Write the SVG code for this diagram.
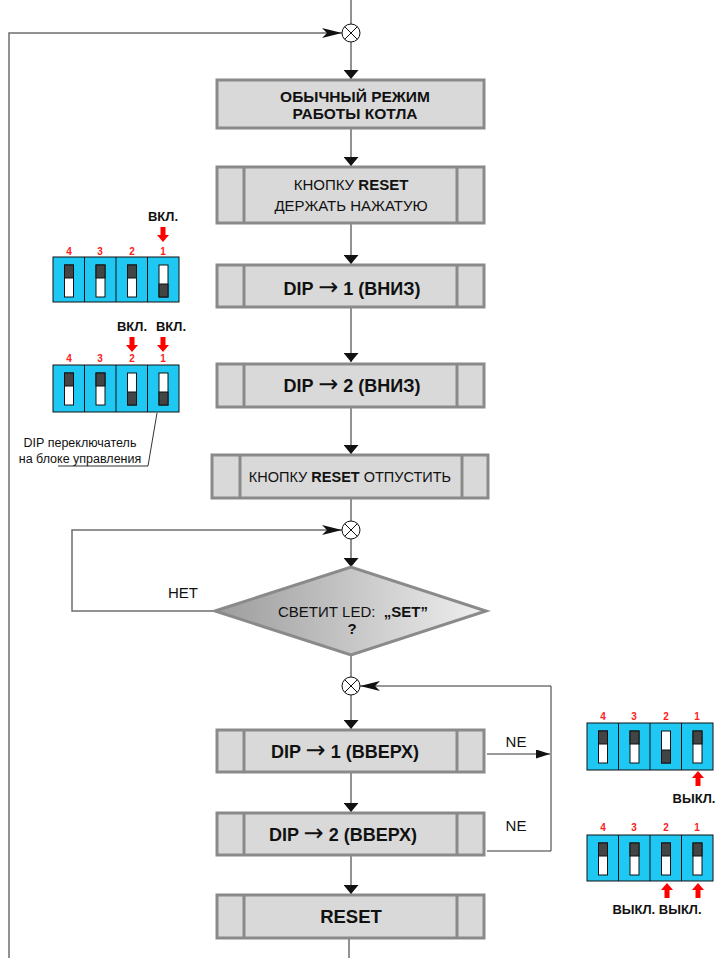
<svg xmlns="http://www.w3.org/2000/svg" xmlns:xlink="http://www.w3.org/1999/xlink" width="721" height="958" viewBox="0 0 721 958">
<style>
.box{fill:#d9d9d9;stroke:#8a8a8a;stroke-width:3}
.div{stroke:#8a8a8a;stroke-width:3}
.ln{fill:none;stroke:#6e6e6e;stroke-width:1.5}
.lnb{fill:none;stroke:#333;stroke-width:1}
.t{font-family:"Liberation Sans",Arial,sans-serif;fill:#111;text-anchor:middle}
.tb{font-family:"Liberation Sans",Arial,sans-serif;font-weight:bold;fill:#111;text-anchor:middle}
.ar{font-family:"DejaVu Sans",sans-serif;font-weight:normal;font-size:24px}
.num{font-family:"Liberation Sans",Arial,sans-serif;font-weight:bold;fill:#ff2020;font-size:10px;text-anchor:middle}
.lab{font-family:"Liberation Sans",Arial,sans-serif;font-weight:bold;fill:#111;font-size:13px}
.body{fill:#1ec8f2;stroke:#111;stroke-width:1}
.red{fill:#ff0000}
.circ{fill:#fff;stroke:#111;stroke-width:1}
</style>
<defs>
<marker id="ah" viewBox="0 0 10 10" refX="10" refY="5" markerWidth="9" markerHeight="15" markerUnits="userSpaceOnUse" orient="auto-start-reverse" preserveAspectRatio="none">
<path d="M0,0 L10,5 L0,10 Z" fill="#111"/>
</marker>
<marker id="ahl" viewBox="0 0 20 10" refX="20" refY="5" markerWidth="20" markerHeight="10" markerUnits="userSpaceOnUse" orient="auto" preserveAspectRatio="none">
<path d="M0,0 L20,5 L0,10 L5,5 Z" fill="#111"/>
</marker>
<marker id="ahs" viewBox="0 0 10 10" refX="10" refY="5" markerWidth="14" markerHeight="9" markerUnits="userSpaceOnUse" orient="auto" preserveAspectRatio="none">
<path d="M0,0 L10,5 L0,10 Z" fill="#111"/>
</marker>
<linearGradient id="dg" x1="0" y1="0" x2="1" y2="0">
<stop offset="0" stop-color="#9c9c9c"/>
<stop offset="1" stop-color="#f0f0f0"/>
</linearGradient>
<g id="tu"><rect x="0" y="0" width="9" height="32" fill="#fff" stroke="#111" stroke-width="1"/><rect x="0" y="0" width="9" height="13" fill="#444" stroke="#111" stroke-width="1"/></g>
<g id="td"><rect x="0" y="0" width="9" height="32" fill="#fff" stroke="#111" stroke-width="1"/><rect x="0" y="19" width="9" height="13" fill="#444" stroke="#111" stroke-width="1"/></g>
<g id="cross"><circle cx="0" cy="0" r="9" class="circ"/><path d="M-6.4,-6.4 L6.4,6.4 M-6.4,6.4 L6.4,-6.4" stroke="#111" stroke-width="1"/></g>
<path id="up" d="M-2.5,15 L-2.5,7 L-6,7 L0,0 L6,7 L2.5,7 L2.5,15 Z"/>
<path id="down" d="M-2.5,0 L-2.5,8 L-6,8 L0,15 L6,8 L2.5,8 L2.5,0 Z"/>
</defs>

<g id="connectors">
<line class="ln" x1="351" y1="0" x2="351" y2="24"/>
<polyline class="ln" points="9,958 9,33 342,33" marker-end="url(#ahl)"/>
<line class="ln" x1="351" y1="42" x2="351" y2="79" marker-end="url(#ah)"/>
<line class="ln" x1="351" y1="129" x2="351" y2="166" marker-end="url(#ah)"/>
<line class="ln" x1="351" y1="224" x2="351" y2="264" marker-end="url(#ah)"/>
<line class="ln" x1="351" y1="308" x2="351" y2="362" marker-end="url(#ah)"/>
<line class="ln" x1="351" y1="408" x2="351" y2="454" marker-end="url(#ah)"/>
<line class="ln" x1="351" y1="499" x2="351" y2="521"/>
<line class="ln" x1="351" y1="539" x2="351" y2="567" marker-end="url(#ah)"/>
<polyline class="ln" points="215,611 72,611 72,530 342,530" marker-end="url(#ahl)"/>
<line class="ln" x1="351" y1="655" x2="351" y2="677"/>
<line class="ln" x1="351" y1="695" x2="351" y2="729" marker-end="url(#ah)"/>
<line class="ln" x1="351" y1="773" x2="351" y2="812" marker-end="url(#ah)"/>
<line class="ln" x1="351" y1="856" x2="351" y2="894" marker-end="url(#ah)"/>
<line class="ln" x1="349" y1="939" x2="349" y2="958"/>
<line class="lnb" x1="487" y1="754" x2="550" y2="754" marker-end="url(#ahs)"/>
<polyline class="lnb" points="487,851 551,851 551,686 360,686" marker-end="url(#ahl)"/>
<polyline class="lnb" points="157,413 148,466 58,466"/>
</g>

<g id="j1"><use xlink:href="#cross" x="351" y="33"/></g>
<g id="j2"><use xlink:href="#cross" x="351" y="530"/></g>
<g id="j3"><use xlink:href="#cross" x="351" y="686"/></g>

<g id="n1">
<rect class="box" x="217" y="80" width="267" height="48"/>
<text class="tb" x="355" y="102" font-size="15.5">ОБЫЧНЫЙ РЕЖИМ</text>
<text class="tb" x="355" y="119" font-size="15.5">РАБОТЫ КОТЛА</text>
</g>

<g id="n2">
<rect class="box" x="217" y="167" width="267" height="56"/>
<line class="div" x1="244" y1="167" x2="244" y2="223"/><line class="div" x1="457" y1="167" x2="457" y2="223"/>
<text class="t" x="351" y="190" font-size="15">КНОПКУ <tspan font-weight="bold">RESET</tspan></text>
<text class="t" x="351" y="210.5" font-size="15">ДЕРЖАТЬ НАЖАТУЮ</text>
</g>

<g id="n3">
<rect class="box" x="217" y="265" width="267" height="42"/>
<line class="div" x1="244" y1="265" x2="244" y2="307"/><line class="div" x1="457" y1="265" x2="457" y2="307"/>
<text class="tb" x="352" y="294.5" font-size="18">DIP <tspan class="ar">→</tspan> 1 (ВНИЗ)</text>
</g>

<g id="n4">
<rect class="box" x="217" y="364" width="267" height="43"/>
<line class="div" x1="244" y1="364" x2="244" y2="407"/><line class="div" x1="457" y1="364" x2="457" y2="407"/>
<text class="tb" x="352" y="392" font-size="18">DIP <tspan class="ar">→</tspan> 2 (ВНИЗ)</text>
</g>

<g id="n5">
<rect class="box" x="212" y="455" width="276" height="43"/>
<line class="div" x1="240" y1="455" x2="240" y2="498"/><line class="div" x1="462" y1="455" x2="462" y2="498"/>
<text class="t" x="350" y="482" font-size="14.5">КНОПКУ <tspan font-weight="bold">RESET</tspan> ОТПУСТИТЬ</text>
</g>

<g id="d1">
<polygon points="215,611 351,567 486,611 351,655" fill="url(#dg)" stroke="#8a8a8a" stroke-width="3"/>
<text class="t" x="353" y="617" font-size="15">СВЕТИТ LED:&#160; <tspan font-weight="bold">„SET”</tspan></text>
<text class="tb" x="352" y="634" font-size="15">?</text>
</g>
<text class="t" x="183" y="598" font-size="15">НЕТ</text>

<g id="n6">
<rect class="box" x="217" y="730" width="267" height="42"/>
<line class="div" x1="244" y1="730" x2="244" y2="772"/><line class="div" x1="457" y1="730" x2="457" y2="772"/>
<text class="tb" x="345" y="758" font-size="18">DIP <tspan class="ar">→</tspan> 1 (ВВЕРХ)</text>
</g>

<g id="n7">
<rect class="box" x="217" y="813" width="267" height="42"/>
<line class="div" x1="244" y1="813" x2="244" y2="855"/><line class="div" x1="457" y1="813" x2="457" y2="855"/>
<text class="tb" x="343" y="841" font-size="18">DIP <tspan class="ar">→</tspan> 2 (ВВЕРХ)</text>
</g>

<g id="n8">
<rect class="box" x="217" y="895" width="267" height="43"/>
<line class="div" x1="244" y1="895" x2="244" y2="938"/><line class="div" x1="457" y1="895" x2="457" y2="938"/>
<text class="tb" x="351" y="923" font-size="18.5">RESET</text>
</g>

<text class="t" x="516" y="747" font-size="15">NE</text>
<text class="t" x="516" y="831" font-size="15">NE</text>

<g id="dip1">
<text class="num" x="69" y="255">4</text><text class="num" x="100" y="255">3</text><text class="num" x="132" y="255">2</text><text class="num" x="163" y="255">1</text>
<rect class="body" x="53" y="257" width="126" height="45"/>
<path d="M84.5,257 V302 M116,257 V302 M147.5,257 V302" stroke="#111" stroke-width="1"/>
<use xlink:href="#tu" x="64.5" y="265"/><use xlink:href="#tu" x="96" y="265"/><use xlink:href="#tu" x="127.5" y="265"/><use xlink:href="#td" x="159" y="265"/>
<use xlink:href="#down" x="163" y="227" class="red"/>
<text class="lab" x="163" y="221" text-anchor="middle">ВКЛ.</text>
</g>

<g id="dip2">
<text class="num" x="69" y="362">4</text><text class="num" x="100" y="362">3</text><text class="num" x="132" y="362">2</text><text class="num" x="163" y="362">1</text>
<rect class="body" x="53" y="365" width="126" height="47"/>
<path d="M84.5,365 V412 M116,365 V412 M147.5,365 V412" stroke="#111" stroke-width="1"/>
<use xlink:href="#tu" x="64.5" y="373"/><use xlink:href="#tu" x="96" y="373"/><use xlink:href="#td" x="127.5" y="373"/><use xlink:href="#td" x="159" y="373"/>
<use xlink:href="#down" x="132" y="337" class="red"/><use xlink:href="#down" x="163" y="337" class="red"/>
<text class="lab" x="132" y="331" text-anchor="middle">ВКЛ.</text>
<text class="lab" x="171" y="331" text-anchor="middle">ВКЛ.</text>
<text class="t" x="80" y="447" font-size="12.5">DIP переключатель</text>
<text class="t" x="80" y="463" font-size="12.5">на блоке управления</text>
</g>

<g id="dip3">
<text class="num" x="603" y="720">4</text><text class="num" x="634" y="720">3</text><text class="num" x="666" y="720">2</text><text class="num" x="697" y="720">1</text>
<rect class="body" x="587" y="723" width="126" height="47"/>
<path d="M618.5,723 V770 M650,723 V770 M681.5,723 V770" stroke="#111" stroke-width="1"/>
<use xlink:href="#tu" x="598.5" y="731"/><use xlink:href="#tu" x="630" y="731"/><use xlink:href="#td" x="661.5" y="731"/><use xlink:href="#tu" x="693" y="731"/>
<use xlink:href="#up" x="698" y="771" class="red"/>
<text class="lab" x="694" y="803" text-anchor="middle">ВЫКЛ.</text>
</g>

<g id="dip4">
<text class="num" x="603" y="831">4</text><text class="num" x="634" y="831">3</text><text class="num" x="666" y="831">2</text><text class="num" x="697" y="831">1</text>
<rect class="body" x="587" y="835" width="126" height="46"/>
<path d="M618.5,835 V881 M650,835 V881 M681.5,835 V881" stroke="#111" stroke-width="1"/>
<use xlink:href="#tu" x="598.5" y="843"/><use xlink:href="#tu" x="630" y="843"/><use xlink:href="#tu" x="661.5" y="843"/><use xlink:href="#tu" x="693" y="843"/>
<use xlink:href="#up" x="667" y="883" class="red"/><use xlink:href="#up" x="698" y="883" class="red"/>
<text class="lab" x="657" y="914" text-anchor="middle">ВЫКЛ. ВЫКЛ.</text>
</g>
</svg>
